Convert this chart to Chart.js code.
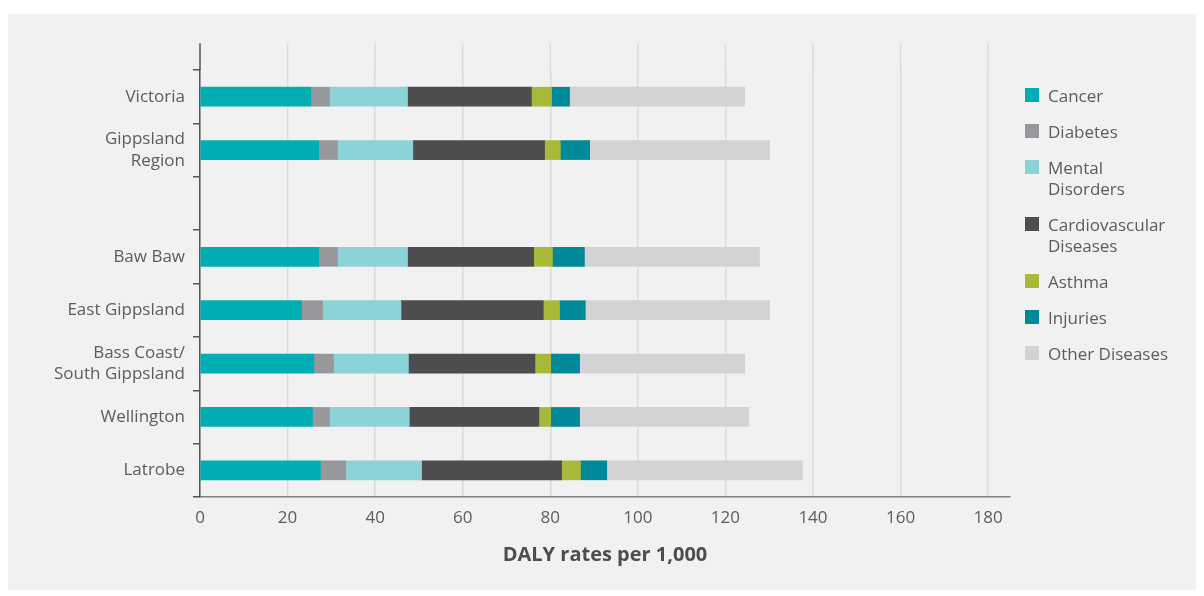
<!DOCTYPE html>
<html lang="en">
<head>
    <meta charset="UTF-8">
    <title>DALY rates per 1,000</title>
    <script src="https://cdn.jsdelivr.net/npm/chart.js"></script>
    <style>
        body {
            margin: 0;
            background-color: #ffffff;
            font-family: "Open Sans", sans-serif;
        }
        .panel {
            position: absolute;
            left: 8px;
            top: 14px;
            width: 1188px;
            height: 576px;
            background-color: #f1f1f1;
        }
        .wrap {
            position: absolute;
            left: 0;
            top: 0;
            width: 1204px;
            height: 596px;
        }
        .legend {
            position: absolute;
            left: 1025px;
            top: 85px;
            color: #5c5c5c;
            font-size: 17px;
            line-height: 21px;
        }
        .legend-item {
            position: relative;
            padding-left: 23px;
            margin-bottom: 15px;
        }
        .legend-box {
            position: absolute;
            left: 0;
            top: 3px;
            width: 14px;
            height: 14px;
        }
    </style>
</head>
<body>
    <div class="panel"></div>
    <div class="wrap">
        <canvas id="chart" width="1204" height="596"></canvas>
    </div>
    <div class="legend" id="legend"></div>

    <script>
        const regions = ['Victoria', ['Gippsland', 'Region'], '', 'Baw Baw', 'East Gippsland',
            ['Bass Coast/', 'South Gippsland'], 'Wellington', 'Latrobe'];

        const cancer   = [25.3, 27.1, null, 27.1, 23.2, 26.0, 25.7, 27.5];
        const diabetes = [4.3, 4.3, null, 4.3, 4.8, 4.5, 3.9, 5.8];
        const mental   = [17.8, 17.2, null, 16.0, 17.9, 17.1, 18.2, 17.3];
        const cardio   = [28.3, 30.1, null, 28.8, 32.5, 28.9, 29.6, 32.0];
        const asthma   = [4.6, 3.6, null, 4.3, 3.7, 3.6, 2.7, 4.3];
        const injuries = [4.1, 6.7, null, 7.3, 5.9, 6.6, 6.6, 6.0];
        const other    = [40.0, 41.1, null, 40.0, 42.1, 37.7, 38.6, 44.7];

        const seriesNames = [['Cancer'], ['Diabetes'], ['Mental', 'Disorders'], ['Cardiovascular', 'Diseases'],
            ['Asthma'], ['Injuries'], ['Other Diseases']];
        const seriesData = [cancer, diabetes, mental, cardio, asthma, injuries, other];
        const seriesColors = ['#00aeb3', '#97989c', '#8bd3d6', '#4d4d4f', '#a8b838', '#008999', '#d2d3d5'];

        const xMax = 185;
        const xStep = 20;

        const textColor = '#5c5c5c';
        const gridColor = '#dbdbdb';

        // vertical grid lines and the y axis continue half a row above the first bar
        const topExtension = {
            id: 'topExtension',
            beforeDatasetsDraw(chart) {
                const { ctx, chartArea, scales } = chart;
                const half = (scales.y.getPixelForValue(1) - scales.y.getPixelForValue(0)) / 2;
                const top = chartArea.top - half;
                ctx.save();
                ctx.lineWidth = 1.5;
                ctx.strokeStyle = gridColor;
                scales.x.ticks.forEach(t => {
                    const px = scales.x.getPixelForValue(t.value);
                    if (t.value === 0) return;
                    ctx.beginPath();
                    ctx.moveTo(px, top);
                    ctx.lineTo(px, chartArea.top);
                    ctx.stroke();
                });
                ctx.strokeStyle = '#555555';
                ctx.beginPath();
                ctx.moveTo(chartArea.left, top);
                ctx.lineTo(chartArea.left, chartArea.top);
                ctx.stroke();
                ctx.restore();
            }
        };

        const datasets = seriesData.map((d, i) => ({
            label: seriesNames[i].join(' '),
            data: d,
            backgroundColor: seriesColors[i],
            borderWidth: 0,
            barThickness: 19
        }));

        new Chart(document.getElementById('chart'), {
            type: 'bar',
            data: { labels: regions, datasets: datasets },
            options: {
                indexAxis: 'y',
                responsive: false,
                animation: false,
                devicePixelRatio: 1,
                layout: { padding: { top: 70, right: 194, bottom: 0, left: 0 } },
                plugins: {
                    legend: { display: false },
                    tooltip: { enabled: false }
                },
                scales: {
                    x: {
                        stacked: true,
                        min: 0,
                        max: xMax,
                        afterFit: s => { s.height = 99; },
                        ticks: {
                            stepSize: xStep,
                            includeBounds: false,
                            padding: 11,
                            color: textColor,
                            font: { family: 'Open Sans', size: 17 }
                        },
                        grid: { color: gridColor, lineWidth: 1.5, drawTicks: false },
                        border: { display: true, color: '#808080', width: 1.5 },
                        title: {
                            display: true,
                            text: 'DALY rates per 1,000',
                            color: '#4d4d4d',
                            font: { family: 'Open Sans', size: 20, weight: 'bold' },
                            padding: { top: 0, bottom: 29 }
                        }
                    },
                    y: {
                        stacked: true,
                        afterFit: s => { s.width = 200; },
                        ticks: {
                            padding: 8,
                            color: textColor,
                            font: { family: 'Open Sans', size: 17, lineHeight: 1.25 }
                        },
                        grid: {
                            offset: true,
                            drawOnChartArea: false,
                            drawTicks: true,
                            tickLength: 7,
                            color: '#555555',
                            lineWidth: 1.5
                        },
                        border: { display: true, color: '#555555', width: 1.5 }
                    }
                }
            },
            plugins: [topExtension]
        });

        // legend with wrapped names
        const legend = document.getElementById('legend');
        seriesNames.forEach((name, i) => {
            const item = document.createElement('div');
            item.className = 'legend-item';
            const box = document.createElement('span');
            box.className = 'legend-box';
            box.style.backgroundColor = seriesColors[i];
            item.appendChild(box);
            name.forEach((line, j) => {
                if (j > 0) item.appendChild(document.createElement('br'));
                item.appendChild(document.createTextNode(line));
            });
            legend.appendChild(item);
        });
    </script>
</body>
</html>
